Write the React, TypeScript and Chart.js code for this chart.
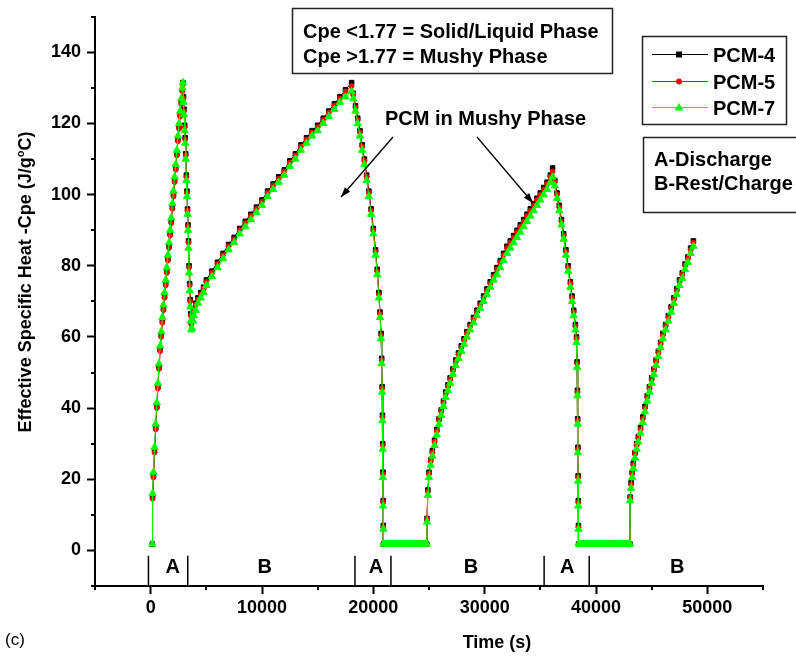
import React, { useEffect, useRef } from 'react';
import { Chart, registerables } from 'chart.js';

Chart.register(...registerables);

const FONT = '"Liberation Sans", Arial, Helvetica, sans-serif';

// Time (s) shared by the three series
const time = [
  150, 170, 250, 350, 450, 550, 650, 750, 850, 950,
  1050, 1150, 1250, 1350, 1450, 1550, 1650, 1750, 1850, 1950,
  2050, 2150, 2250, 2350, 2450, 2550, 2650, 2750, 2850, 2900,
  2950, 3000, 3060, 3100, 3150, 3210, 3260, 3310, 3360, 3400,
  3450, 3500, 3550, 3600, 3650,
  3700, 3800, 3900, 4050, 4250, 4500, 4750, 5000, 5500, 6000,
  6500, 7000, 7500, 8000, 8500, 9000, 9500, 10000, 10500, 11000,
  11500, 12000, 12500, 13000, 13500, 14000, 14500, 15000, 15500, 16000,
  16500, 17000, 17500, 18050,
  18200, 18400, 18600, 18800, 19000, 19200, 19400, 19600, 19800, 20000,
  20200, 20350, 20500, 20600, 20700, 20750, 20790, 20820, 20845, 20865,
  20880, 20895, 20910,
  21050, 21200, 21350, 21500, 21650, 21800, 21950, 22100, 22250, 22400,
  22550, 22700, 22850, 23000, 23150, 23300, 23450, 23600, 23750, 23900,
  24050, 24200, 24350, 24500, 24650, 24800,
  24820, 24900, 25000, 25150, 25300, 25500, 25700, 25900, 26100, 26300,
  26500, 26700, 26900, 27150, 27400, 27650, 27900, 28150, 28400, 28700,
  29000, 29300, 29600, 29900, 30200, 30500, 30800, 31100, 31400, 31700,
  32000, 32300, 32600, 32900, 33200, 33500, 33800, 34100, 34400, 34700,
  35000, 35300, 35600, 35900, 36100,
  36300, 36500, 36700, 36900, 37100, 37300, 37500, 37700, 37850, 38000,
  38150, 38250, 38300, 38330, 38355, 38375, 38395, 38410, 38425, 38440,
  38600, 38750, 38900, 39050, 39200, 39350, 39500, 39650, 39800, 39950,
  40100, 40250, 40400, 40550, 40700, 40850, 41000, 41150, 41300, 41450,
  41600, 41750, 41900, 42050, 42200, 42350, 42500, 42650, 42800, 42950,
  43050,
  43070, 43150, 43250, 43350, 43500, 43650, 43800, 44000, 44200, 44400,
  44600, 44800, 45000, 45200, 45400, 45600, 45800, 46000, 46250, 46500,
  46750, 47000, 47250, 47500, 47750, 48000, 48250, 48500, 48750,
];

// Effective specific heat Cpe (J/g°C)
const pcm4 = [
  1.8, 15, 21, 28, 34.5, 40.5, 46, 51.5, 56.5, 60.5,
  64.5, 68, 71.5, 75, 78.5, 82, 85.5, 89, 92.5, 96.5,
  100, 104, 107.5, 111.5, 115.5, 119, 122.5, 126, 129.5, 131.5,
  127.5, 124, 119.5, 116, 111.5, 105.5, 101, 96, 91.5, 87,
  80, 75, 70.5, 66.5, 64,
  65, 66.5, 68, 69.5, 71, 72.5, 74, 76, 78.5, 81,
  83.5, 86, 88, 90.5, 92.5, 94.5, 96.5, 98.5, 101, 103,
  105, 107, 109.5, 111.5, 114, 116, 118, 119.5, 121.5, 123.5,
  125.5, 127.5, 129.5, 131.5,
  128.5, 125, 121.5, 118, 114, 110, 105.5, 101, 96, 90.5,
  84.5, 79, 72.5, 67, 61, 54, 46, 38, 30, 22,
  14, 7, 1.8,
  1.8, 1.8, 1.8, 1.8, 1.8, 1.8, 1.8, 1.8, 1.8, 1.8,
  1.8, 1.8, 1.8, 1.8, 1.8, 1.8, 1.8, 1.8, 1.8, 1.8,
  1.8, 1.8, 1.8, 1.8, 1.8, 1.8,
  9, 17, 22, 25.5, 28, 31, 34, 37, 39.5, 42,
  44.5, 46.5, 48.5, 51, 53.5, 55.5, 57.5, 59.5, 61.5, 63.5,
  65.5, 67.5, 69.5, 71.5, 73.5, 75.5, 77.5, 79.5, 81.5, 83.5,
  85.5, 87, 88.5, 90, 91.5, 93, 94.5, 96, 97.5, 99,
  100.5, 102, 103.5, 105.5, 107.5,
  104, 100.5, 97, 93, 89, 84.5, 80, 75.5, 71.5, 67.5,
  63.5, 60, 53, 45, 37, 29, 21, 14, 7, 1.8,
  1.8, 1.8, 1.8, 1.8, 1.8, 1.8, 1.8, 1.8, 1.8, 1.8,
  1.8, 1.8, 1.8, 1.8, 1.8, 1.8, 1.8, 1.8, 1.8, 1.8,
  1.8, 1.8, 1.8, 1.8, 1.8, 1.8, 1.8, 1.8, 1.8, 1.8,
  1.8,
  15, 19, 22, 24.5, 27.5, 30, 32, 34.5, 37.5, 40.5,
  43.5, 46, 48.5, 51, 53.5, 56, 58.5, 61, 63.5, 66,
  68.5, 71, 73.5, 76, 78, 80.5, 82.5, 85, 87,
];

const pcm5 = [
  1.8, 14.5, 20.5, 27.5, 34, 40, 45.5, 51, 56, 60,
  64, 67.5, 71, 74.5, 78, 81.5, 85, 88.5, 92, 96,
  99.5, 103.5, 107, 111, 115, 118.5, 122, 125.5, 129, 131,
  127, 123.5, 119, 115.5, 111, 105, 100.5, 95.5, 91, 86.5,
  79.5, 74.5, 70, 66, 63.5,
  64.5, 66, 67.5, 69, 70.5, 72, 73.5, 75.5, 78, 80.5,
  83, 85.5, 87.5, 90, 92, 94, 96, 98, 100.5, 102.5,
  104.5, 106.5, 109, 111, 113.5, 115.5, 117.5, 119, 121, 123,
  125, 127, 129, 130.5,
  128, 124.5, 121, 117.5, 113.5, 109.5, 105, 100.5, 95.5, 90,
  84, 78.5, 72, 66.5, 60.5, 53.5, 45.5, 37.5, 29.5, 21.5,
  13.5, 6.5, 1.8,
  1.8, 1.8, 1.8, 1.8, 1.8, 1.8, 1.8, 1.8, 1.8, 1.8,
  1.8, 1.8, 1.8, 1.8, 1.8, 1.8, 1.8, 1.8, 1.8, 1.8,
  1.8, 1.8, 1.8, 1.8, 1.8, 1.8,
  9, 16.5, 21.5, 25, 27.5, 30.5, 33.5, 36.5, 39, 41.5,
  44, 46, 48, 50.5, 53, 55, 57, 59, 61, 63,
  65, 67, 69, 71, 73, 75, 77, 79, 81, 83,
  85, 86.5, 88, 89.5, 91, 92.5, 94, 95.5, 97, 98.5,
  100, 101.5, 103, 105, 106.5,
  103.5, 100, 96.5, 92.5, 88.5, 84, 79.5, 75, 71, 67,
  63, 59.5, 52.5, 44.5, 36.5, 28.5, 20.5, 13.5, 6.5, 1.8,
  1.8, 1.8, 1.8, 1.8, 1.8, 1.8, 1.8, 1.8, 1.8, 1.8,
  1.8, 1.8, 1.8, 1.8, 1.8, 1.8, 1.8, 1.8, 1.8, 1.8,
  1.8, 1.8, 1.8, 1.8, 1.8, 1.8, 1.8, 1.8, 1.8, 1.8,
  1.8,
  15, 18.5, 21.5, 24, 27, 29.5, 31.5, 34, 37, 40,
  43, 45.5, 48, 50.5, 53, 55.5, 58, 60.5, 63, 65.5,
  68, 70.5, 73, 75.5, 77.5, 80, 82, 84.5, 86.5,
];

const pcm7 = [
  1.8, 16, 22, 29, 35.5, 41.5, 47, 52.5, 57.5, 61.5,
  65.5, 69, 72.5, 76, 79.5, 83, 86.5, 90, 93.5, 97.5,
  101, 105, 108.5, 112.5, 116.5, 120, 123.5, 127, 130, 131.5,
  126, 122.5, 118, 114.5, 110, 104, 99.5, 94.5, 90, 85,
  78, 73, 68.5, 64.5, 62,
  62.5, 64.5, 66, 67.5, 69.5, 71, 72.5, 74.5, 77, 79.5,
  82, 84.5, 86.5, 89, 91, 93, 95, 97, 99.5, 101.5,
  103.5, 105.5, 108, 110, 112.5, 114.5, 116.5, 118, 120, 122,
  124, 126, 127.5, 129,
  127, 123.5, 120, 116.5, 112.5, 108.5, 104, 99.5, 94.5, 89,
  83, 77.5, 71, 65.5, 59.5, 52.5, 44.5, 36.5, 28.5, 20.5,
  12.5, 6, 1.8,
  1.8, 1.8, 1.8, 1.8, 1.8, 1.8, 1.8, 1.8, 1.8, 1.8,
  1.8, 1.8, 1.8, 1.8, 1.8, 1.8, 1.8, 1.8, 1.8, 1.8,
  1.8, 1.8, 1.8, 1.8, 1.8, 1.8,
  8, 15.5, 20.5, 24, 26.5, 29.5, 32.5, 35.5, 38, 40.5,
  43, 45, 47, 49.5, 52, 54, 56, 58, 60, 62,
  64, 66, 68, 70, 72, 74, 76, 77.5, 79.5, 81.5,
  83.5, 85, 86.5, 88, 89.5, 91, 92.5, 94, 95.5, 97,
  98.5, 100, 101.5, 103.5, 105,
  102.5, 99, 95.5, 91.5, 87.5, 83, 78.5, 74, 70, 66,
  62, 58.5, 51.5, 43.5, 35.5, 27.5, 19.5, 12.5, 6, 1.8,
  1.8, 1.8, 1.8, 1.8, 1.8, 1.8, 1.8, 1.8, 1.8, 1.8,
  1.8, 1.8, 1.8, 1.8, 1.8, 1.8, 1.8, 1.8, 1.8, 1.8,
  1.8, 1.8, 1.8, 1.8, 1.8, 1.8, 1.8, 1.8, 1.8, 1.8,
  1.8,
  14, 17.5, 20.5, 23, 26, 28.5, 30.5, 33, 36, 39,
  42, 44.5, 47, 49.5, 52, 54.5, 57, 59.5, 62, 64.5,
  67, 69.5, 72, 74.5, 76.5, 79, 81, 83.5, 85.5,
];

const seriesNames = ['PCM-4', 'PCM-5', 'PCM-7'];
const xTickLabels = [0, 10000, 20000, 30000, 40000, 50000];
const yTickLabels = [0, 20, 40, 60, 80, 100, 120, 140];
const phaseBoundaries = [-200, 3330, 18350, 21580, 35340, 39390];
const phaseLetters = ['A', 'B', 'A', 'B', 'A', 'B'];
const phaseLetterTimes = [1980, 10250, 20230, 28780, 37410, 47300];
const noteLines = ['Cpe <1.77 = Solid/Liquid Phase', 'Cpe >1.77 = Mushy Phase'];
const phaseKey = ['A-Discharge', 'B-Rest/Charge'];
const mushyLabel = 'PCM in Mushy Phase';

const seriesStyles = [
  { color: '#000000', pointStyle: 'rect', radius: 3.2, order: 3 },
  { color: '#ff0000', pointStyle: 'circle', radius: 2.4, order: 2 },
  { color: '#00ff00', pointStyle: 'triangle', radius: 4.2, order: 1 },
];
const seriesValues = [pcm4, pcm5, pcm7];

function drawMarker(ctx: CanvasRenderingContext2D, style: string, cx: number, cy: number, color: string) {
  ctx.fillStyle = color;
  ctx.beginPath();
  if (style === 'rect') {
    ctx.rect(cx - 3, cy - 3, 6, 6);
  } else if (style === 'circle') {
    ctx.arc(cx, cy, 3, 0, Math.PI * 2);
  } else {
    ctx.moveTo(cx, cy - 4.5);
    ctx.lineTo(cx + 4.5, cy + 3);
    ctx.lineTo(cx - 4.5, cy + 3);
    ctx.closePath();
  }
  ctx.fill();
}

function drawArrow(ctx: CanvasRenderingContext2D, x1: number, y1: number, x2: number, y2: number) {
  ctx.beginPath();
  ctx.moveTo(x1, y1);
  ctx.lineTo(x2, y2);
  ctx.stroke();
  const a = Math.atan2(y2 - y1, x2 - x1);
  const L = 10;
  const W = 3.5;
  ctx.beginPath();
  ctx.moveTo(x2, y2);
  ctx.lineTo(x2 - L * Math.cos(a) + W * Math.sin(a), y2 - L * Math.sin(a) - W * Math.cos(a));
  ctx.lineTo(x2 - L * Math.cos(a) - W * Math.sin(a), y2 - L * Math.sin(a) + W * Math.cos(a));
  ctx.closePath();
  ctx.fill();
}

const annotationPlugin = {
  id: 'annotations',
  afterDraw(chart: any) {
    const ctx: CanvasRenderingContext2D = chart.ctx;
    const xs = chart.scales.x;
    const ys = chart.scales.y;
    ctx.save();

    // minor ticks
    ctx.strokeStyle = '#000';
    ctx.lineWidth = 2;
    xs.ticks.forEach((t: any) => {
      if (!xTickLabels.includes(t.value)) {
        const px = Math.round(xs.getPixelForValue(t.value));
        ctx.beginPath();
        ctx.moveTo(px, xs.top);
        ctx.lineTo(px, xs.top + 4);
        ctx.stroke();
      }
    });
    ys.ticks.forEach((t: any) => {
      if (!yTickLabels.includes(t.value)) {
        const py = Math.round(ys.getPixelForValue(t.value));
        ctx.beginPath();
        ctx.moveTo(ys.right - 4, py);
        ctx.lineTo(ys.right, py);
        ctx.stroke();
      }
    });

    // phase boundaries and letters
    ctx.lineWidth = 1.5;
    const yTop = ys.getPixelForValue(-1.5);
    const yBot = ys.getPixelForValue(-10);
    phaseBoundaries.forEach((t) => {
      const px = xs.getPixelForValue(t);
      ctx.beginPath();
      ctx.moveTo(px, yTop);
      ctx.lineTo(px, yBot);
      ctx.stroke();
    });
    ctx.fillStyle = '#000';
    ctx.font = `bold 20px ${FONT}`;
    ctx.textAlign = 'center';
    ctx.textBaseline = 'alphabetic';
    phaseLetters.forEach((l, i) => {
      ctx.fillText(l, xs.getPixelForValue(phaseLetterTimes[i]), 573);
    });

    // axis titles
    ctx.font = `bold 18px ${FONT}`;
    ctx.textAlign = 'center';
    ctx.fillText('Time (s)', 497, 648);
    ctx.font = `17px ${FONT}`;
    ctx.textAlign = 'left';
    ctx.fillText('(c)', 5, 645);

    ctx.save();
    ctx.translate(30.5, 282);
    ctx.rotate(-Math.PI / 2);
    const p1 = 'Effective Specific Heat -Cpe (J/g';
    const p2 = 'o';
    const p3 = 'C)';
    ctx.font = `bold 18px ${FONT}`;
    const w1 = ctx.measureText(p1).width;
    const w3 = ctx.measureText(p3).width;
    ctx.font = `bold 11px ${FONT}`;
    const w2 = ctx.measureText(p2).width;
    let sx = -(w1 + w2 + w3) / 2;
    ctx.textAlign = 'left';
    ctx.font = `bold 18px ${FONT}`;
    ctx.fillText(p1, sx, 0);
    sx += w1;
    ctx.font = `bold 11px ${FONT}`;
    ctx.fillText(p2, sx, -7);
    sx += w2;
    ctx.font = `bold 18px ${FONT}`;
    ctx.fillText(p3, sx, 0);
    ctx.restore();

    // boxes
    ctx.strokeStyle = '#222';
    ctx.lineWidth = 1.5;
    ctx.strokeRect(292.5, 8.5, 320, 65);
    ctx.strokeRect(642.5, 36.5, 144, 88);
    ctx.strokeRect(643.5, 137.5, 170, 75);

    ctx.fillStyle = '#000';
    ctx.font = `bold 20px ${FONT}`;
    ctx.textAlign = 'left';
    ctx.fillText(noteLines[0], 303, 38);
    ctx.fillText(noteLines[1], 303, 63);
    ctx.fillText(phaseKey[0], 654, 166);
    ctx.fillText(phaseKey[1], 654, 190);
    ctx.fillText(mushyLabel, 385, 125);

    // legend
    const rowY = [54, 81, 107];
    seriesNames.forEach((name, i) => {
      const st = seriesStyles[i];
      ctx.strokeStyle = st.color;
      ctx.lineWidth = 1;
      ctx.beginPath();
      ctx.moveTo(652, rowY[i] + 0.5);
      ctx.lineTo(708, rowY[i] + 0.5);
      ctx.stroke();
      drawMarker(ctx, st.pointStyle, 679, rowY[i] + 0.5, st.color);
      ctx.fillStyle = '#000';
      ctx.font = `bold 20px ${FONT}`;
      ctx.fillText(name, 713, rowY[i] + 7.5);
    });

    // arrows
    ctx.strokeStyle = '#000';
    ctx.fillStyle = '#000';
    ctx.lineWidth = 1.3;
    drawArrow(ctx, 393, 137, 341, 197);
    drawArrow(ctx, 477, 137, 533, 203);

    ctx.restore();
  },
};

export default function App() {
  const canvasRef = useRef<HTMLCanvasElement | null>(null);

  useEffect(() => {
    const canvas = canvasRef.current;
    if (!canvas) return;
    const n = Math.min(time.length, pcm4.length, pcm5.length, pcm7.length);
    const datasets = seriesNames.map((name, si) => {
      const st = seriesStyles[si];
      const vals = seriesValues[si];
      const data = [] as { x: number; y: number }[];
      for (let i = 0; i < n; i++) data.push({ x: time[i], y: vals[i] });
      return {
        label: name,
        data,
        order: st.order,
        borderColor: st.color,
        backgroundColor: st.color,
        borderWidth: 1,
        pointStyle: st.pointStyle,
        pointRadius: st.radius,
        pointBackgroundColor: st.color,
        pointBorderColor: st.color,
        pointBorderWidth: 1,
        tension: 0,
        fill: false,
      };
    });

    const tickFont = { family: FONT, size: 18, weight: 'bold' as const };
    const chart = new Chart(canvas, {
      type: 'line',
      data: { datasets: datasets as any },
      options: {
        animation: false,
        responsive: false,
        devicePixelRatio: 1,
        events: [],
        layout: { padding: { left: 0, right: 33, top: 15, bottom: 0 } },
        plugins: { legend: { display: false }, tooltip: { enabled: false }, title: { display: false } },
        scales: {
          x: {
            type: 'linear',
            min: -5000,
            max: 55000,
            border: { display: true, color: '#000', width: 2 },
            grid: {
              display: true,
              drawOnChartArea: false,
              drawTicks: true,
              tickLength: 8,
              tickWidth: 2,
              tickColor: (c: any) => (c.tick && xTickLabels.includes(c.tick.value) ? '#000' : 'rgba(0,0,0,0)'),
            },
            ticks: {
              stepSize: 5000,
              autoSkip: false,
              maxRotation: 0,
              padding: 3,
              color: '#000',
              font: tickFont,
              callback: (v: any) => (xTickLabels.includes(Number(v)) ? String(v) : ''),
            },
            afterFit: (s: any) => {
              s.height = 71;
            },
          },
          y: {
            type: 'linear',
            min: -10,
            max: 150,
            border: { display: true, color: '#000', width: 2 },
            grid: {
              display: true,
              drawOnChartArea: false,
              drawTicks: true,
              tickLength: 8,
              tickWidth: 2,
              tickColor: (c: any) => (c.tick && yTickLabels.includes(c.tick.value) ? '#000' : 'rgba(0,0,0,0)'),
            },
            ticks: {
              stepSize: 10,
              autoSkip: false,
              padding: 6,
              color: '#000',
              font: tickFont,
              callback: (v: any) => (yTickLabels.includes(Number(v)) ? String(v) : ''),
            },
            afterFit: (s: any) => {
              s.width = 95;
            },
          },
        },
      },
      plugins: [annotationPlugin],
    });
    return () => chart.destroy();
  }, []);

  return (
    <div style={{ position: 'absolute', left: 0, top: 0, width: 796, height: 657, background: '#fff' }}>
      <canvas ref={canvasRef} width={796} height={657} style={{ display: 'block' }} />
    </div>
  );
}
